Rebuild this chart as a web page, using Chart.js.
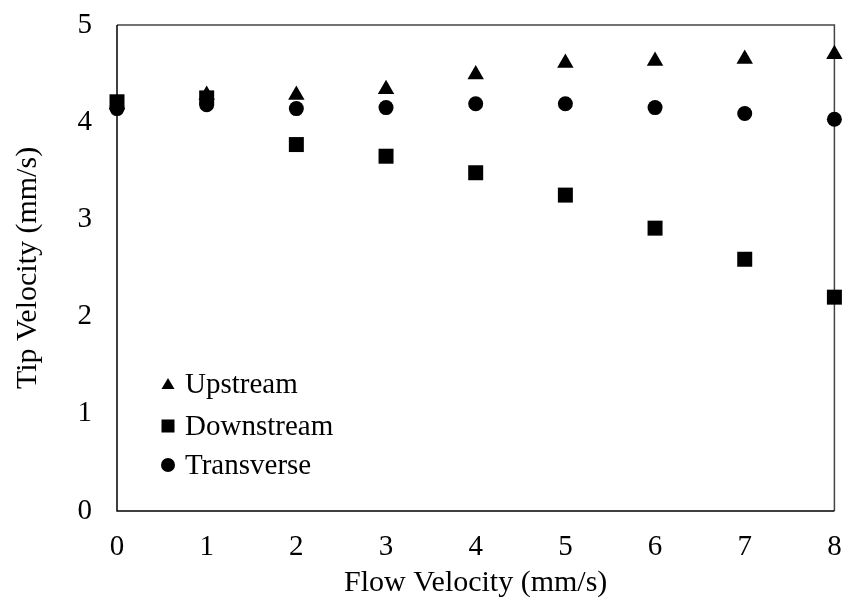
<!DOCTYPE html>
<html>
<head>
<meta charset="utf-8">
<script src="https://cdn.jsdelivr.net/npm/chart.js@4/dist/chart.umd.min.js"></script>
<style>
  html, body { margin: 0; padding: 0; background: #fff; }
  #wrap { width: 845px; height: 599px; }
</style>
</head>
<body>
<div id="wrap"><canvas id="tipChart" width="845" height="599"></canvas></div>
<script>
// flow velocity (mm/s)
const flowVelocity = [0, 1, 2, 3, 4, 5, 6, 7, 8];
// tip velocity (mm/s) per swimming direction
const upstream   = [4.18, 4.28, 4.28, 4.34, 4.49, 4.61, 4.63, 4.65, 4.70];
const downstream = [4.21, 4.25, 3.77, 3.65, 3.48, 3.25, 2.91, 2.59, 2.20];
const transverse = [4.14, 4.18, 4.14, 4.15, 4.19, 4.19, 4.15, 4.09, 4.03];

const seriesNames = ['Upstream', 'Downstream', 'Transverse'];
const serif = "'Liberation Serif', 'Times New Roman', serif";

function toPoints(ys) {
    return flowVelocity.map((x, i) => ({ x: x, y: ys[i] }));
}

// keep the plot box fixed: no extra room reserved for overhanging labels
function fixScale(size) {
    return function (scale) {
        if (scale.isHorizontal()) scale.height = size; else scale.width = size;
        scale.paddingTop = 0;
        scale.paddingBottom = 0;
        scale.paddingLeft = 0;
        scale.paddingRight = 0;
    };
}

// box around the plot, left/bottom darker than top/right
const frame = {
    id: 'frame',
    beforeDatasetsDraw(chart) {
        const { ctx, chartArea: a } = chart;
        ctx.save();
        ctx.lineWidth = 1.5;
        ctx.strokeStyle = '#444';
        ctx.beginPath();
        ctx.moveTo(a.left, a.top);
        ctx.lineTo(a.right, a.top);
        ctx.lineTo(a.right, a.bottom);
        ctx.stroke();
        ctx.strokeStyle = '#000';
        ctx.beginPath();
        ctx.moveTo(a.left, a.top);
        ctx.lineTo(a.left, a.bottom);
        ctx.lineTo(a.right, a.bottom);
        ctx.stroke();
        ctx.restore();
    }
};

// legend sitting inside the plot, lower left
const innerLegend = {
    id: 'innerLegend',
    afterDraw(chart) {
        const { ctx, chartArea: a } = chart;
        const mx = a.left + 51;
        const tx = a.left + 68;
        const rows = [a.bottom - 127, a.bottom - 85, a.bottom - 46];
        ctx.save();
        ctx.fillStyle = '#000';
        // triangle
        let y = rows[0];
        ctx.beginPath();
        ctx.moveTo(mx, y - 6);
        ctx.lineTo(mx + 6.5, y + 5);
        ctx.lineTo(mx - 6.5, y + 5);
        ctx.closePath();
        ctx.fill();
        // square
        y = rows[1];
        ctx.fillRect(mx - 6.5, y - 6.5, 13, 13);
        // circle
        y = rows[2];
        ctx.beginPath();
        ctx.arc(mx, y, 7, 0, Math.PI * 2);
        ctx.fill();

        ctx.font = '29px ' + serif;
        ctx.textBaseline = 'middle';
        ctx.textAlign = 'left';
        seriesNames.forEach((name, i) => {
            ctx.fillText(name, tx, rows[i] + 1);
        });
        ctx.restore();
    }
};

new Chart(document.getElementById('tipChart'), {
    type: 'scatter',
    data: {
        datasets: [
            {
                label: seriesNames[0],
                data: toPoints(upstream),
                pointStyle: 'triangle',
                pointRadius: 9.5,
                backgroundColor: '#000',
                borderColor: '#000',
                borderWidth: 0
            },
            {
                label: seriesNames[1],
                data: toPoints(downstream),
                pointStyle: 'rect',
                pointRadius: 10.6,
                backgroundColor: '#000',
                borderColor: '#000',
                borderWidth: 0
            },
            {
                label: seriesNames[2],
                data: toPoints(transverse),
                pointStyle: 'circle',
                pointRadius: 7.5,
                backgroundColor: '#000',
                borderColor: '#000',
                borderWidth: 0
            }
        ]
    },
    options: {
        responsive: false,
        animation: false,
        clip: false,
        layout: { padding: { top: 25, right: 8, left: 0, bottom: 0 } },
        plugins: {
            legend: { display: false },
            tooltip: { enabled: false }
        },
        scales: {
            x: {
                type: 'linear',
                min: 0,
                max: 8,
                ticks: {
                    stepSize: 1,
                    color: '#000',
                    font: { family: serif, size: 29 },
                    padding: 19
                },
                grid: { display: false, drawTicks: false },
                border: { display: false },
                title: {
                    display: true,
                    text: 'Flow Velocity (mm/s)',
                    color: '#000',
                    font: { family: serif, size: 30, lineHeight: 1.0 },
                    padding: { top: 0, bottom: 1 }
                },
                afterFit: fixScale(88)
            },
            y: {
                type: 'linear',
                min: 0,
                max: 5,
                ticks: {
                    stepSize: 1,
                    color: '#000',
                    font: { family: serif, size: 29 },
                    padding: 25
                },
                grid: { display: false, drawTicks: false },
                border: { display: false },
                title: {
                    display: true,
                    text: 'Tip Velocity (mm/s)',
                    color: '#000',
                    font: { family: serif, size: 30, lineHeight: 1.0 },
                    padding: { top: 13, bottom: 0 }
                },
                afterFit: fixScale(117)
            }
        }
    },
    plugins: [frame, innerLegend]
});
</script>
</body>
</html>
